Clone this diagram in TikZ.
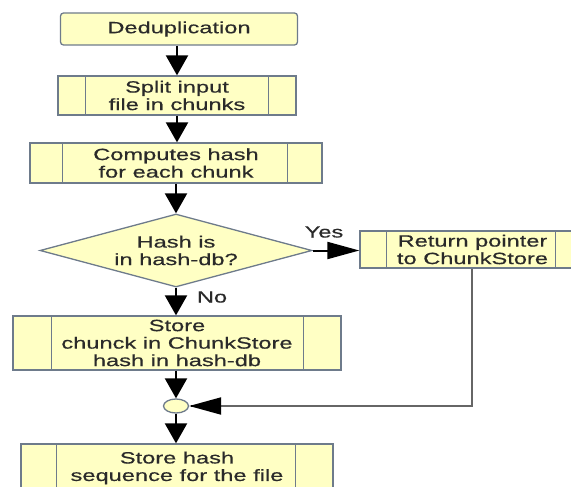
\documentclass[tikz,border=0pt]{standalone}
\usepackage{fontspec}
\setmainfont{Liberation Sans}[FakeStretch=1.45,FakeBold=0.5]
\usetikzlibrary{arrows.meta,shapes.geometric}
\definecolor{boxfill}{HTML}{FFFFC4}
\definecolor{boxline}{HTML}{6E7B8B}
\definecolor{txt}{HTML}{2A2A2A}
\definecolor{wire}{HTML}{666666}
\tikzset{
  box/.style={draw=boxline, fill=boxfill, line width=1.3pt, rectangle,
    inner sep=0pt, align=center, text=txt,
    font=\fontsize{16.3}{17.5}\selectfont},
  subproc/.style={box},
  innerline/.style={draw=boxline, line width=1.3pt},
  vflow/.style={draw=black, line width=2.2pt,
    -{Triangle[length=20pt,width=22pt]}},
  hflow/.style={draw=black, line width=2pt,
    -{Triangle[length=32pt,width=17pt]}},
  label/.style={text=txt, font=\fontsize{16.3}{17.5}\selectfont,
    inner sep=0pt, align=center},
}
\begin{document}
\begin{tikzpicture}[x=1pt,y=-1pt]
\useasboundingbox (0,0) rectangle (571,487);
\clip (0,0) rectangle (571,487);

% process boxes
\node[box, rounded corners=3pt, minimum width=237pt, minimum height=32pt]
  (dedup) at (179,29) {Deduplication};
\node[subproc, minimum width=238pt, minimum height=39pt]
  (split) at (177,95.5) {Split input\\file in chunks};
\node[subproc, minimum width=292pt, minimum height=40pt]
  (hash) at (176,163) {Computes hash\\for each chunk};
\node[box, shape=diamond, minimum width=272pt, minimum height=73pt]
  (dec) at (176,250.5) {};
\node[label] (dectext) at (dec.center) {Hash is\\in hash-db?};
\node[subproc, minimum width=328pt, minimum height=54pt]
  (store) at (177,343) {Store\\chunck in ChunkStore\\hash in hash-db};
\node[subproc, minimum width=225pt, minimum height=37pt]
  (ret) at (472.5,249.5) {Return pointer\\to ChunkStore};
\node[box, ellipse, minimum width=25pt, minimum height=14pt]
  (join) at (176,406) {};
\node[subproc, minimum width=312pt, minimum height=48pt]
  (seq) at (177,468) {Store hash\\sequence for the file};

% side bars of the predefined-process boxes
\draw[innerline] ([xshift=28pt]split.north west) -- ([xshift=28pt]split.south west);
\draw[innerline] ([xshift=-28pt]split.north east) -- ([xshift=-28pt]split.south east);
\draw[innerline] ([xshift=33pt]hash.north west) -- ([xshift=33pt]hash.south west);
\draw[innerline] ([xshift=-35pt]hash.north east) -- ([xshift=-35pt]hash.south east);
\draw[innerline] ([xshift=39pt]store.north west) -- ([xshift=39pt]store.south west);
\draw[innerline] ([xshift=-38pt]store.north east) -- ([xshift=-38pt]store.south east);
\draw[innerline] ([xshift=27pt]ret.north west) -- ([xshift=27pt]ret.south west);
\draw[innerline] ([xshift=-30pt]ret.north east) -- ([xshift=-30pt]ret.south east);
\draw[innerline] ([xshift=36pt]seq.north west) -- ([xshift=36pt]seq.south west);
\draw[innerline] ([xshift=-38pt]seq.north east) -- ([xshift=-38pt]seq.south east);

% connectors
\draw[vflow] (dedup.south -| split.north) -- (split.north);
\draw[vflow] (split.south) -- (hash.north -| split.south);
\draw[vflow] (hash.south -| dec.north) -- (dec.north);
\draw[vflow] (dec.south) -- (store.north -| dec.south);
\draw[hflow] (dec.east) -- (ret.west |- dec.east);
\draw[vflow] (store.south -| join.north) -- (join.north);
\draw[vflow] (join.south) -- (seq.north -| join.south);
\coordinate (bend) at (472,406);
\draw[wire, line width=1.5pt] (bend |- ret.south) -- (bend) -- ([xshift=32pt]join.east);
\draw[hflow, shorten <=30pt] ([xshift=32pt]join.east) -- (join.east);

% branch labels
\node[label] (yes) at (324,232) {Yes};
\node[label] (no) at (212,297) {No};
\end{tikzpicture}
\end{document}
